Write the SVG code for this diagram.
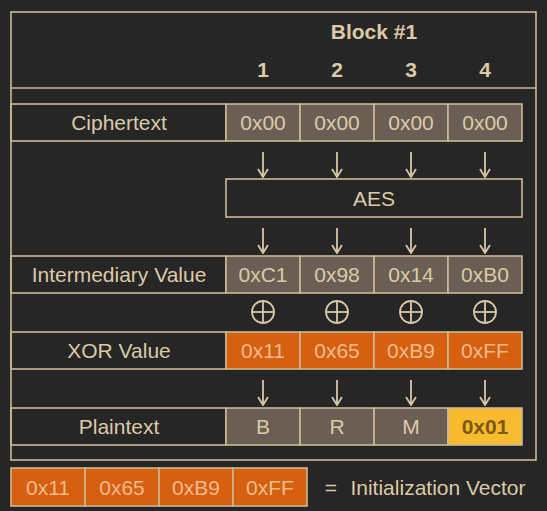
<svg xmlns="http://www.w3.org/2000/svg" width="547" height="511" viewBox="0 0 547 511">
<defs>
<style>
.t{font-family:"Liberation Sans",Arial,sans-serif;font-size:21px;fill:#dccaa6;text-anchor:middle;dominant-baseline:central}
.b{font-weight:bold}
.ln{fill:none;stroke:#cbb993;stroke-width:1.6}
.g{fill:#6b5f55;stroke:#cbb993;stroke-width:1.6}
.o{fill:#d65f10;stroke:#cbb993;stroke-width:1.6}
.y{fill:#f8bb2f;stroke:#cbb993;stroke-width:1.6}
.ot{fill:#eebc8e}
.a{fill:none;stroke:#d9c8a5;stroke-width:1.8}
</style>
<marker id="ah" viewBox="0 0 10 12" refX="9" refY="6" markerWidth="10" markerHeight="12" orient="auto" markerUnits="userSpaceOnUse">
<path d="M1,1 L9,6 L1,11" fill="none" stroke="#d9c8a5" stroke-width="1.8"/>
</marker>
</defs>
<rect width="547" height="511" fill="#262626"/>
<g id="frame">
<rect class="ln" x="11" y="12" width="525" height="448"/>
<line class="ln" x1="11" y1="88" x2="536" y2="88"/>
<text class="t b" x="374" y="31">Block #1</text>
<text class="t b" x="263" y="69">1</text>
<text class="t b" x="337" y="69">2</text>
<text class="t b" x="411" y="69">3</text>
<text class="t b" x="485" y="69">4</text>
</g>
<g id="ciphertext">
<rect class="ln" x="11" y="104" width="215" height="37"/>
<text class="t" x="119" y="122">Ciphertext</text>
<rect class="g" x="226" y="104" width="74" height="37"/><text class="t" x="263" y="122">0x00</text>
<rect class="g" x="300" y="104" width="74" height="37"/><text class="t" x="337" y="122">0x00</text>
<rect class="g" x="374" y="104" width="74" height="37"/><text class="t" x="411" y="122">0x00</text>
<rect class="g" x="448" y="104" width="74" height="37"/><text class="t" x="485" y="122">0x00</text>
</g>
<g id="aes">
<rect class="ln" x="226" y="179" width="296" height="38"/>
<text class="t" x="374" y="198">AES</text>
</g>
<g id="intermediary">
<rect class="ln" x="11" y="256" width="215" height="37"/>
<text class="t" x="119" y="274">Intermediary Value</text>
<rect class="g" x="226" y="256" width="74" height="37"/><text class="t" x="263" y="274">0xC1</text>
<rect class="g" x="300" y="256" width="74" height="37"/><text class="t" x="337" y="274">0x98</text>
<rect class="g" x="374" y="256" width="74" height="37"/><text class="t" x="411" y="274">0x14</text>
<rect class="g" x="448" y="256" width="74" height="37"/><text class="t" x="485" y="274">0xB0</text>
</g>
<g id="xor-ops">
<g class="a">
<circle cx="263" cy="312" r="11"/><line x1="252" y1="312" x2="274" y2="312"/><line x1="263" y1="301" x2="263" y2="323"/>
<circle cx="337" cy="312" r="11"/><line x1="326" y1="312" x2="348" y2="312"/><line x1="337" y1="301" x2="337" y2="323"/>
<circle cx="411" cy="312" r="11"/><line x1="400" y1="312" x2="422" y2="312"/><line x1="411" y1="301" x2="411" y2="323"/>
<circle cx="485" cy="312" r="11"/><line x1="474" y1="312" x2="496" y2="312"/><line x1="485" y1="301" x2="485" y2="323"/>
</g>
</g>
<g id="xor">
<rect class="ln" x="11" y="332" width="215" height="37"/>
<text class="t" x="119" y="350">XOR Value</text>
<rect class="o" x="226" y="332" width="74" height="37"/><text class="t ot" x="263" y="350">0x11</text>
<rect class="o" x="300" y="332" width="74" height="37"/><text class="t ot" x="337" y="350">0x65</text>
<rect class="o" x="374" y="332" width="74" height="37"/><text class="t ot" x="411" y="350">0xB9</text>
<rect class="o" x="448" y="332" width="74" height="37"/><text class="t ot" x="485" y="350">0xFF</text>
</g>
<g id="plaintext">
<rect class="ln" x="11" y="408" width="215" height="37"/>
<text class="t" x="119" y="426">Plaintext</text>
<rect class="g" x="226" y="408" width="74" height="37"/><text class="t" x="263" y="426">B</text>
<rect class="g" x="300" y="408" width="74" height="37"/><text class="t" x="337" y="426">R</text>
<rect class="g" x="374" y="408" width="74" height="37"/><text class="t" x="411" y="426">M</text>
<rect class="y" x="448" y="408" width="74" height="37"/><text class="t b" x="485" y="426" style="fill:#7a5a12">0x01</text>
</g>
<g id="iv">
<rect class="o" x="11" y="468" width="74" height="38"/><text class="t ot" x="48" y="487">0x11</text>
<rect class="o" x="85" y="468" width="74" height="38"/><text class="t ot" x="122" y="487">0x65</text>
<rect class="o" x="159" y="468" width="74" height="38"/><text class="t ot" x="196" y="487">0xB9</text>
<rect class="o" x="233" y="468" width="74" height="38"/><text class="t ot" x="270" y="487">0xFF</text>
<text class="t" x="331" y="487">=</text>
<text class="t" x="438" y="487">Initialization Vector</text>
</g>
<g id="connectors">
<line class="a" x1="263" y1="152" x2="263" y2="177" marker-end="url(#ah)"/>
<line class="a" x1="337" y1="152" x2="337" y2="177" marker-end="url(#ah)"/>
<line class="a" x1="411" y1="152" x2="411" y2="177" marker-end="url(#ah)"/>
<line class="a" x1="485" y1="152" x2="485" y2="177" marker-end="url(#ah)"/>
<line class="a" x1="263" y1="228" x2="263" y2="253" marker-end="url(#ah)"/>
<line class="a" x1="337" y1="228" x2="337" y2="253" marker-end="url(#ah)"/>
<line class="a" x1="411" y1="228" x2="411" y2="253" marker-end="url(#ah)"/>
<line class="a" x1="485" y1="228" x2="485" y2="253" marker-end="url(#ah)"/>
<line class="a" x1="263" y1="380" x2="263" y2="405" marker-end="url(#ah)"/>
<line class="a" x1="337" y1="380" x2="337" y2="405" marker-end="url(#ah)"/>
<line class="a" x1="411" y1="380" x2="411" y2="405" marker-end="url(#ah)"/>
<line class="a" x1="485" y1="380" x2="485" y2="405" marker-end="url(#ah)"/>
</g>
</svg>
